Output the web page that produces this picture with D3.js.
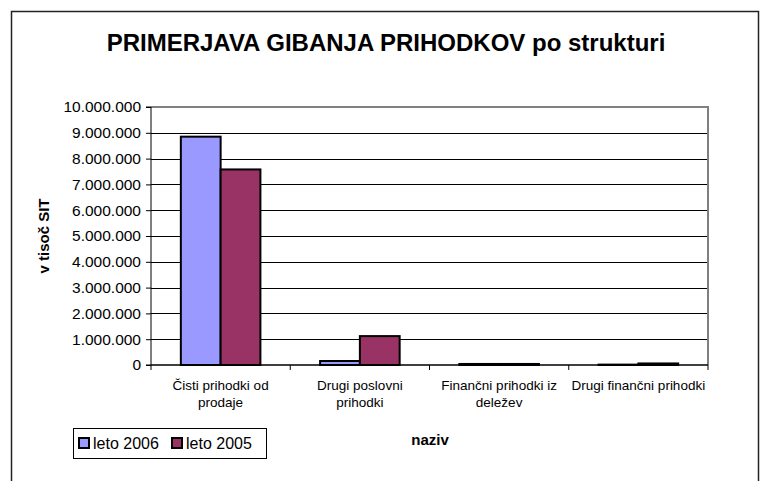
<!DOCTYPE html>
<html>
<head>
<meta charset="utf-8">
<script src="https://cdn.jsdelivr.net/npm/d3@7"></script>
<style>
  body { margin: 0; background: #fff; }
  text { font-family: "Liberation Sans", Arial, sans-serif; }
</style>
</head>
<body>
<div id="chart-container"></div>
<script>
// Data (v tisoč SIT)
const categories = [
    ["Čisti prihodki od", "prodaje"],
    ["Drugi poslovni", "prihodki"],
    ["Finančni prihodki iz", "deležev"],
    ["Drugi finančni prihodki"]
];
const seriesNames = ["leto 2006", "leto 2005"];
const values2006 = [8850000, 155000, 40000, 15000];
const values2005 = [7580000, 1120000, 40000, 60000];
const yTicks = [0, 1000000, 2000000, 3000000, 4000000, 5000000, 6000000, 7000000, 8000000, 9000000, 10000000];
const colors = ["#9999ff", "#993366"];

const W = 762, H = 481;
const plot = { left: 151, top: 107, right: 708, bottom: 365 };

const svg = d3.select("#chart-container")
    .append("svg")
    .attr("width", W)
    .attr("height", H);

// chart frame
svg.append("rect")
    .attr("x", 11.5).attr("y", 11.5)
    .attr("width", 747).attr("height", 500)
    .attr("fill", "#fff")
    .attr("stroke", "#222")
    .attr("stroke-width", 1.5);

// title
svg.append("text")
    .attr("x", 386)
    .attr("y", 51)
    .attr("text-anchor", "middle")
    .style("font-size", "24px")
    .style("font-weight", "bold")
    .text("PRIMERJAVA GIBANJA PRIHODKOV po strukturi");

// scales
const keys = categories.map((d, i) => i);
const x0 = d3.scaleBand()
    .domain(keys)
    .range([plot.left, plot.right])
    .padding(0);

const x1 = d3.scaleBand()
    .domain(seriesNames)
    .range([0, x0.bandwidth()])
    .paddingInner(0)
    .paddingOuter(0.75);

const y = d3.scaleLinear()
    .domain([0, 10000000])
    .range([plot.bottom, plot.top]);

const fmt = d3.formatLocale({ decimal: ",", thousands: ".", grouping: [3], currency: ["", ""] }).format(",.0f");

// gridlines
svg.append("g")
    .selectAll("line")
    .data(yTicks.slice(1, -1))
    .enter().append("line")
    .attr("x1", plot.left).attr("x2", plot.right)
    .attr("y1", d => Math.round(y(d)) + 0.5)
    .attr("y2", d => Math.round(y(d)) + 0.5)
    .attr("stroke", "#000")
    .attr("stroke-width", 1);

// plot area border (gray top and right)
svg.append("path")
    .attr("d", `M${plot.left},${plot.top}H${plot.right}V${plot.bottom}`)
    .attr("fill", "none")
    .attr("stroke", "#808080")
    .attr("stroke-width", 2);

// bars
const rows = keys.map(i => ({ i: i, vals: [values2006[i], values2005[i]] }));
svg.append("g")
    .selectAll("g")
    .data(rows)
    .enter().append("g")
    .attr("transform", d => `translate(${x0(d.i)},0)`)
    .selectAll("rect")
    .data(d => d.vals.map((v, k) => ({ name: seriesNames[k], v: v, k: k })))
    .enter().append("rect")
    .attr("x", d => x1(d.name))
    .attr("y", d => y(d.v))
    .attr("width", x1.bandwidth())
    .attr("height", d => y(0) - y(d.v))
    .attr("fill", d => colors[d.k])
    .attr("stroke", "#000")
    .attr("stroke-width", 2);

// y axis
const yAxis = d3.axisLeft(y)
    .tickValues(yTicks)
    .tickFormat(fmt)
    .tickSize(5)
    .tickPadding(5);

svg.append("g")
    .attr("class", "y axis")
    .attr("transform", `translate(${plot.left},0)`)
    .call(yAxis)
    .call(g => g.select(".domain").attr("stroke", "#000").attr("d", `M-5,${plot.top}H0V${plot.bottom}H-5`))
    .call(g => g.selectAll("text").style("font-size", "15.5px").attr("fill", "#000"));

// x axis: ticks at category boundaries
svg.append("line")
    .attr("x1", plot.left).attr("x2", plot.right)
    .attr("y1", plot.bottom).attr("y2", plot.bottom)
    .attr("stroke", "#000").attr("stroke-width", 1.5);

svg.append("g")
    .selectAll("line")
    .data(keys.concat([keys.length]))
    .enter().append("line")
    .attr("x1", d => d < keys.length ? x0(d) : plot.right)
    .attr("x2", d => d < keys.length ? x0(d) : plot.right)
    .attr("y1", plot.bottom).attr("y2", plot.bottom + 5)
    .attr("stroke", "#000");

// category labels
const catLabels = svg.append("g")
    .selectAll("text")
    .data(rows)
    .enter().append("text")
    .attr("text-anchor", "middle")
    .attr("y", 390)
    .style("font-size", "13.5px");

catLabels.selectAll("tspan")
    .data(d => categories[d.i].map(t => ({ t: t, cx: x0(d.i) + x0.bandwidth() / 2 })))
    .enter().append("tspan")
    .attr("x", d => d.cx)
    .attr("dy", (d, j) => j === 0 ? 0 : 17)
    .text(d => d.t);

// axis titles
svg.append("text")
    .attr("transform", "translate(49,236) rotate(-90)")
    .attr("text-anchor", "middle")
    .style("font-size", "15px")
    .style("font-weight", "bold")
    .text("v tisoč SIT");

svg.append("text")
    .attr("x", 430)
    .attr("y", 445)
    .attr("text-anchor", "middle")
    .style("font-size", "15px")
    .style("font-weight", "bold")
    .text("naziv");

// legend
const legend = svg.append("g").attr("transform", "translate(73,428)");
legend.append("rect")
    .attr("x", 0.5).attr("y", 0.5)
    .attr("width", 193).attr("height", 30)
    .attr("fill", "#fff")
    .attr("stroke", "#000");

const items = legend.selectAll(".item")
    .data(seriesNames)
    .enter().append("g")
    .attr("class", "item")
    .attr("transform", (d, i) => `translate(${6 + i * 93},0)`);

items.append("rect")
    .attr("x", 0).attr("y", 10)
    .attr("width", 10).attr("height", 10)
    .attr("fill", (d, i) => colors[i])
    .attr("stroke", "#000")
    .attr("stroke-width", 2);

items.append("text")
    .attr("x", 14)
    .attr("y", 21)
    .style("font-size", "16px")
    .text(d => d);
</script>
</body>
</html>
